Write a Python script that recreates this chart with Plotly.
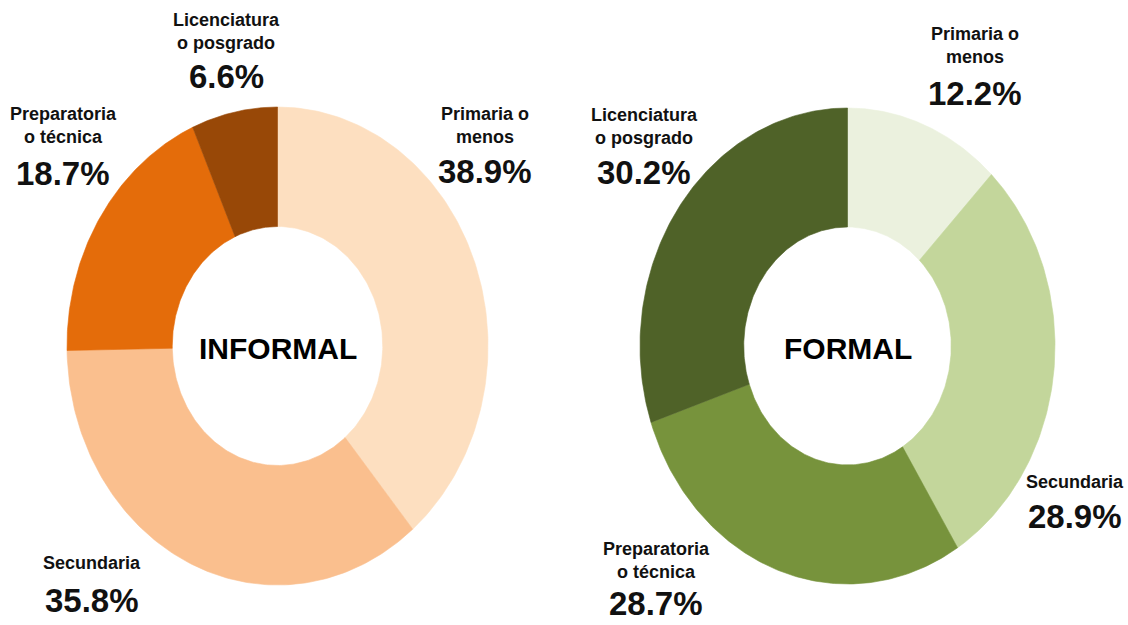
import numpy as np
import plotly.graph_objects as go

# ---- data ----
categories = ["Primaria o menos", "Secundaria", "Preparatoria o técnica", "Licenciatura o posgrado"]
label_text = ["Primaria o<br>menos", "Secundaria", "Preparatoria<br>o técnica", "Licenciatura<br>o posgrado"]
informal_values = [38.9, 35.8, 18.7, 6.6]
formal_values = [12.2, 28.9, 28.7, 30.2]
informal_colors = ["#FDDFC0", "#FABF8E", "#E46C0A", "#984807"]
formal_colors = ["#EBF1DE", "#C3D69B", "#77933C", "#4F6228"]
titles = ["INFORMAL", "FORMAL"]

# ---- layout constants (pixel space) ----
W, H = 1128, 625
charts = [
    dict(values=informal_values, colors=informal_colors, title=titles[0],
         cx=277.5, cy=346, rx=210.5, ry=239, hole=0.5,
         label_pos=[(485, 125), (92, 563), (63, 125), (226, 31)],
         num_pos=[(485, 171), (92, 600), (63, 173), (226, 76)]),
    dict(values=formal_values, colors=formal_colors, title=titles[1],
         cx=847.5, cy=346, rx=207.5, ry=238, hole=0.5,
         label_pos=[(975, 45), (1075, 482), (656, 560), (644, 126)],
         num_pos=[(975, 93), (1075, 516), (656, 603), (644, 172)]),
]

LABEL_FONT = dict(family="Liberation Sans, Arial, sans-serif", size=18, color="#111111")
NUM_FONT = dict(family="Liberation Sans, Arial, sans-serif", size=33, color="#111111")
TITLE_FONT = dict(family="Liberation Sans, Arial, sans-serif", size=30, color="#000000")

fig = go.Figure()
annotations = []

for ch in charts:
    vals = np.array(ch["values"], dtype=float)
    cum = np.concatenate([[0], np.cumsum(vals)]) / vals.sum() * 2 * np.pi
    for i, cat in enumerate(categories):
        t = np.linspace(cum[i], cum[i + 1], 120)
        xo = ch["cx"] + ch["rx"] * np.sin(t)
        yo = ch["cy"] - ch["ry"] * np.cos(t)
        xi = ch["cx"] + ch["rx"] * ch["hole"] * np.sin(t[::-1])
        yi = ch["cy"] - ch["ry"] * ch["hole"] * np.cos(t[::-1])
        xs = np.concatenate([xo, xi, xo[:1]])
        ys = np.concatenate([yo, yi, yo[:1]])
        fig.add_trace(go.Scatter(
            x=xs, y=ys, mode="lines", fill="toself",
            fillcolor=ch["colors"][i],
            line=dict(color=ch["colors"][i], width=0.6),
            name=cat, showlegend=False, hoverinfo="text",
            text=f"{cat}: {vals[i]:.1f}%"))
        lx, ly = ch["label_pos"][i]
        annotations.append(dict(x=lx, y=ly, text=f"<b>{label_text[i]}</b>",
                                showarrow=False, font=LABEL_FONT,
                                xanchor="center", yanchor="middle", align="center"))
        nx, ny = ch["num_pos"][i]
        annotations.append(dict(x=nx, y=ny, text=f"<b>{vals[i]:.1f}%</b>",
                                showarrow=False, font=NUM_FONT,
                                xanchor="center", yanchor="middle"))
    annotations.append(dict(x=ch["cx"], y=ch["cy"] + 2, text=f"<b>{ch['title']}</b>",
                            showarrow=False, font=TITLE_FONT,
                            xanchor="center", yanchor="middle"))

fig.update_layout(
    width=W, height=H,
    margin=dict(l=0, r=0, t=0, b=0),
    paper_bgcolor="white", plot_bgcolor="white",
    xaxis=dict(range=[0, W], visible=False, fixedrange=True),
    yaxis=dict(range=[H, 0], visible=False, fixedrange=True),
    annotations=annotations,
    showlegend=False,
)

fig.write_html(
    "out.html",
    config={"displayModeBar": False},
    post_script="document.body.style.margin='0';document.body.style.overflow='hidden';",
)
